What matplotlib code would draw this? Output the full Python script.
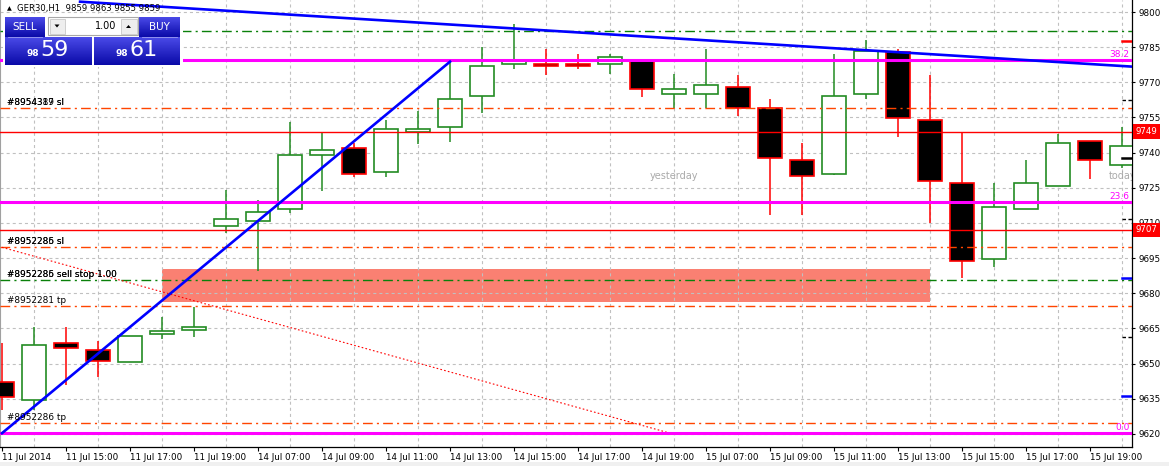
import numpy as np
import matplotlib
matplotlib.use("Agg")
import matplotlib.pyplot as plt
from matplotlib.patches import Rectangle, Polygon
from matplotlib.colors import LinearSegmentedColormap

plt.rcParams["font.family"] = ["DejaVu Sans"]
plt.rcParams["lines.scale_dashes"] = False

# ---------------- data ----------------
symbol_title = "GER30,H1  9859 9863 9855 9859"
tick_positions = list(range(0, 36, 2))
tick_labels = ["11 Jul 2014", "11 Jul 15:00", "11 Jul 17:00", "11 Jul 19:00",
               "14 Jul 07:00", "14 Jul 09:00", "14 Jul 11:00", "14 Jul 13:00",
               "14 Jul 15:00", "14 Jul 17:00", "14 Jul 19:00", "15 Jul 07:00",
               "15 Jul 09:00", "15 Jul 11:00", "15 Jul 13:00", "15 Jul 15:00",
               "15 Jul 17:00", "15 Jul 19:00"]

opens = [9642.2, 9634.3, 9658.7, 9655.8, 9650.6, 9662.5, 9664.5, 9708.6, 9710.7,
         9715.8, 9738.9, 9741.9, 9731.6, 9748.7, 9750.8, 9764.0, 9777.7, 9777.7,
         9777.7, 9777.7, 9779.5, 9764.9, 9764.9, 9767.9, 9758.9, 9736.7, 9730.8,
         9764.9, 9783.1, 9753.8, 9726.9, 9694.5, 9715.8, 9725.8, 9744.8, 9734.6]
highs = [9658.8, 9665.7, 9665.7, 9659.6, 9661.8, 9670.0, 9674.3, 9724.1, 9719.8,
         9753.2, 9748.7, 9744.0, 9753.9, 9757.8, 9778.8, 9784.9, 9794.9, 9784.1,
         9782.1, 9782.1, 9779.5, 9773.5, 9784.1, 9773.1, 9762.9, 9744.0, 9782.1,
         9788.1, 9784.1, 9773.1, 9748.5, 9726.9, 9736.9, 9748.0, 9744.8, 9751.0]
lows = [9630.0, 9630.2, 9640.9, 9644.4, 9650.6, 9660.5, 9661.2, 9705.6, 9689.6,
        9714.1, 9723.8, 9729.5, 9729.7, 9743.7, 9744.7, 9756.8, 9775.8, 9773.0,
        9775.6, 9773.4, 9763.9, 9759.0, 9758.9, 9755.6, 9713.4, 9713.4, 9730.6,
        9762.8, 9746.8, 9709.9, 9686.7, 9691.4, 9715.8, 9725.8, 9728.6, 9733.3]
closes = [9635.8, 9657.9, 9656.5, 9651.2, 9661.8, 9663.8, 9665.5, 9711.6, 9714.5,
          9738.9, 9741.0, 9730.8, 9750.0, 9750.0, 9762.8, 9776.8, 9779.0, 9776.8,
          9776.8, 9780.7, 9767.0, 9767.0, 9768.7, 9758.9, 9737.6, 9730.0, 9764.0,
          9783.5, 9754.7, 9727.8, 9693.8, 9716.8, 9726.9, 9744.0, 9736.7, 9742.7]

y_ticks = list(range(9620, 9801, 15))

fib_levels = ["0.0", "23.6", "38.2"]
fib_prices = [9620.3, 9718.9, 9779.5]

price_marks = [9749, 9707]

order_labels = ["#8954389 sl", "#8952286 sl", "#8952286 sell stop 1.00",
                "#8952281 tp", "#8952286 tp"]
order_labels_2 = ["#8954317 sl", "#8952285 sl", "#8952285 sell stop 1.00", "", ""]
order_prices = [9758.9, 9699.6, 9685.5, 9674.4, 9624.5]
order_kinds = ["stop", "stop", "pending", "stop", "stop"]
upper_pending_price = 9791.8

rise_x = [0, 14]
rise_y = [9620.3, 9778.8]
fall_x = [2.44, 35.31]
fall_y = [9804.4, 9776.7]
fibo_base_x = [0, 20.875]
fibo_base_y = [9699.6, 9620.3]
zone_x = [5.0, 29.0]
zone_y = [9676.4, 9690.4]

last_bar_levels = [9787.8, 9762.5, 9711.7, 9661.2, 9686.4, 9636.3, 9737.5]
last_bar_kinds = ["red", "dash", "dash", "dash", "blue", "blue", "solid"]

session_labels = ["yesterday", "today"]
session_x = [21.0, 34.6]
session_y = [9730, 9730]

# ---------------- styling ----------------
W, H = 1169, 466
BULL = "#228B22"
BEAR = "#FF0000"
ORDER_RED = "#FF4500"
ORDER_GREEN = "#0A800A"
MAGENTA = "#FF00FF"
BLUE = "#0000FF"
DASHDOT = (7, 3, 1.5, 3)

fig = plt.figure(figsize=(W / 100, H / 100), dpi=100)
fig.patch.set_facecolor("white")
ax = fig.add_axes([0, 19 / H, 1132 / W, 1 - 19 / H])

n = len(opens)
ax.set_xlim(-2 / 32, 1130 / 32)
ax.set_ylim(9614.4, 9805.12)

# grid
ax.set_axisbelow(True)
ax.set_yticks(y_ticks)
ax.set_xticks(np.arange(n), minor=True)
ax.grid(which="minor", axis="x", color="#C0C0C0", lw=0.8, dashes=(2.2, 2.2))
ax.grid(which="major", axis="y", color="#C0C0C0", lw=0.8, dashes=(2.2, 2.2))

# pending order zone
ax.add_patch(Rectangle((zone_x[0], zone_y[0]), zone_x[1] - zone_x[0], zone_y[1] - zone_y[0],
                       facecolor="#FA8072", edgecolor="none", zorder=0.3))

# candles
bw = 0.75
for i in range(n):
    o, h, l, c = opens[i], highs[i], lows[i], closes[i]
    bull = c >= o
    col = BULL if bull else BEAR
    ax.plot([i, i], [l, h], color=col, lw=1.1, zorder=2.5, solid_capstyle="butt")
    lo, hi = min(o, c), max(o, c)
    hgt = max(hi - lo, 0.4)
    ax.add_patch(Rectangle((i - bw / 2, lo), bw, hgt,
                           facecolor="white" if bull else "black",
                           edgecolor=col, lw=1.2, zorder=3))

# horizontal levels
ax.axhline(upper_pending_price, color=ORDER_GREEN, lw=1.0, dashes=DASHDOT, zorder=4)
for p, kind in zip(order_prices, order_kinds):
    col = ORDER_GREEN if kind == "pending" else ORDER_RED
    ax.axhline(p, color=col, lw=1.0, dashes=DASHDOT, zorder=4)
ytr = ax.get_yaxis_transform()
for lab, lab2, p in zip(order_labels, order_labels_2, order_prices):
    for t in (lab2, lab):
        if t:
            ax.annotate(t, xy=(0.006, p), xycoords=ytr, xytext=(0, 1.2),
                        textcoords="offset points", fontsize=6.4, color="black",
                        va="bottom", ha="left", zorder=6)

for p in price_marks:
    ax.axhline(p, color="#FF0000", lw=1.0, zorder=4)
    ax.text(1.003, p, str(p), transform=ytr, ha="left", va="center", color="white",
            fontsize=6.2, zorder=8, clip_on=False,
            bbox=dict(boxstyle="square,pad=0.3", fc="#FF0000", ec="none"))

for lv, p in zip(fib_levels, fib_prices):
    ax.axhline(p, color=MAGENTA, lw=2.2, zorder=4.5)
    ax.annotate(lv, xy=(0.998, p), xycoords=ytr, xytext=(0, 0.8),
                textcoords="offset points", ha="right", va="bottom",
                color=MAGENTA, fontsize=6.5, zorder=6)

# trend lines
ax.plot(fibo_base_x, fibo_base_y, color="#FF0000", lw=0.8, dashes=(1.2, 1.6), zorder=4)
ax.plot(rise_x, rise_y, color=BLUE, lw=1.9, zorder=5)
ax.plot(fall_x, fall_y, color=BLUE, lw=1.9, zorder=5)

# last bar level marks
xr = ax.get_xlim()[1]
for p, k in zip(last_bar_levels, last_bar_kinds):
    if k == "red":
        ax.plot([n - 1, xr], [p, p], color="#FF0000", lw=1.8, zorder=5)
    elif k == "blue":
        ax.plot([n - 1, xr], [p, p], color=BLUE, lw=1.8, zorder=5)
    elif k == "dash":
        ax.plot([n - 1, xr], [p, p], color="black", lw=1.0, dashes=(2.5, 1.8), zorder=5)
    else:
        ax.plot([n - 1, xr], [p, p], color="black", lw=1.8, zorder=5)

# session labels
ax.text(session_x[0], session_y[0], session_labels[0], color="#AAAAAA", fontsize=7,
        ha="center", va="center", zorder=2)
ax.text(session_x[1], session_y[1], session_labels[1], color="#AAAAAA", fontsize=7,
        ha="left", va="center", zorder=2, clip_on=True)

# axes / ticks
ax.yaxis.tick_right()
ax.set_yticklabels([str(v) for v in y_ticks])
ax.set_xticks(tick_positions)
ax.set_xticklabels(tick_labels, ha="left")
ax.tick_params(axis="y", which="major", direction="out", length=2.5, width=0.8,
               labelsize=6.3, pad=2, colors="black")
ax.tick_params(axis="x", which="major", direction="out", length=3, width=0.8,
               labelsize=6.3, pad=1.5)
ax.tick_params(axis="x", which="minor", length=0)
ax.spines["top"].set_visible(False)
ax.spines["left"].set_color("#A0A0A0")
ax.spines["left"].set_linewidth(0.8)
ax.spines["right"].set_linewidth(0.9)
ax.spines["bottom"].set_linewidth(0.9)

# ---------------- overlay panel (pixel coordinates) ----------------
ov = fig.add_axes([0, 0, 1, 1], zorder=10)
ov.set_facecolor("none")
ov.axis("off")

ov.add_patch(Rectangle((0, 462), W, 4, facecolor="#F0F0F0", edgecolor="none"))
ov.text(9, 9, "\u25B2", fontsize=4.5, ha="center", va="center", color="black")
ov.text(17, 9, symbol_title, fontsize=6.1, ha="left", va="center", color="black")

ov.add_patch(Rectangle((3, 15), 180, 52, facecolor="white", edgecolor="none"))
cmap = LinearSegmentedColormap.from_list("btn", ["#4A4AE8", "#0A0AA8"])
grad = np.linspace(0, 1, 64).reshape(-1, 1)


def gbox(x0, y0, x1, y1):
    ov.imshow(grad, cmap=cmap, extent=(x0, x1, y1, y0), aspect="auto",
              interpolation="bilinear", zorder=1)


gbox(5, 17, 45, 37)
gbox(139, 17, 180, 37)
gbox(5, 37.5, 92, 65)
gbox(94, 37.5, 180, 65)
ov.plot([8, 42], [36.5, 36.5], color="#9C9CF0", lw=0.6, zorder=2)
ov.plot([142, 177], [36.5, 36.5], color="#9C9CF0", lw=0.6, zorder=2)
ov.text(25, 27, "SELL", color="white", fontsize=7.5, ha="center", va="center", zorder=3)
ov.text(159.5, 27, "BUY", color="white", fontsize=7.5, ha="center", va="center", zorder=3)
ov.text(33, 54, "98", color="white", fontsize=6.5, fontweight="bold", ha="center",
        va="center", zorder=3)
ov.text(55, 50.5, "59", color="white", fontsize=16, family="DejaVu Sans",
        fontweight="normal", ha="center", va="center", zorder=3)
ov.text(122, 54, "98", color="white", fontsize=6.5, fontweight="bold", ha="center",
        va="center", zorder=3)
ov.text(144, 50.5, "61", color="white", fontsize=16, family="DejaVu Sans",
        fontweight="normal", ha="center", va="center", zorder=3)

# lot spinner
ov.add_patch(Rectangle((48, 17), 90, 18, facecolor="white", edgecolor="#A8A8A8", lw=0.8, zorder=2))
ov.add_patch(Rectangle((49.5, 18.5), 15.5, 15, facecolor="#EEEEEE", edgecolor="#C8C8C8", lw=0.6, zorder=3))
ov.add_patch(Rectangle((120.5, 18.5), 16, 15, facecolor="#EEEEEE", edgecolor="#C8C8C8", lw=0.6, zorder=3))
ov.add_patch(Polygon([[54.5, 24.5], [59.5, 24.5], [57, 27.5]], closed=True, facecolor="black", zorder=4))
ov.add_patch(Polygon([[126, 28], [131, 28], [128.5, 25]], closed=True, facecolor="black", zorder=4))
ov.text(116, 26, "1.00", color="black", fontsize=7, ha="right", va="center", zorder=4)

ov.set_xlim(0, W)
ov.set_ylim(H, 0)

fig.savefig("out.png", dpi=100, facecolor="white")
